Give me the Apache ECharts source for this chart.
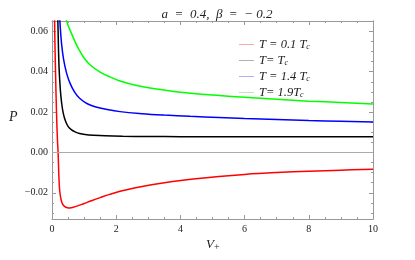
<!DOCTYPE html>
<html>
<head>
<meta charset="utf-8">
<script src="https://cdn.jsdelivr.net/npm/echarts@6/dist/echarts.min.js"></script>
<style>html,body{margin:0;padding:0;background:#fff}#c{width:415px;height:260px}</style>
</head>
<body>
<div id="c"></div>
<script>
// Data: [V+, P]
const seriesNames = ['T = 0.1 Tc', 'T= Tc', 'T = 1.4 Tc', 'T= 1.9Tc'];
const redData = [[0.07,0.085],[0.085,0.06],[0.11,0.04],[0.14,0.02],[0.17,0.006],[0.19,0.0],[0.215,-0.012],[0.24,-0.019],[0.28,-0.0232],[0.33,-0.0256],[0.4,-0.0269],[0.48,-0.0274],[0.56,-0.0275],[0.66,-0.0272],[0.8,-0.0265],[1.0,-0.0253],[1.25,-0.0238],[1.5,-0.0224],[1.8,-0.0208],[2.12,-0.0193],[2.6,-0.0175],[3.1,-0.016],[3.7,-0.0146],[4.4,-0.0132],[5.2,-0.0119],[6.0,-0.0109],[7.0,-0.01],[8.0,-0.0093],[9.0,-0.0088],[10,-0.0083]];
const blackData = [[0.17,0.075],[0.19,0.06],[0.22,0.042],[0.26,0.031],[0.3,0.0245],[0.35,0.0195],[0.42,0.0155],[0.5,0.0129],[0.6,0.0113],[0.72,0.0102],[0.86,0.0094],[1.03,0.0089],[1.3,0.0085],[1.65,0.0082],[2.2,0.008],[3,0.0079],[4,0.0078],[6,0.0077],[8,0.0077],[10,0.0077]];
const blueData = [[0.21,0.075],[0.23,0.069],[0.26,0.0615],[0.3,0.0535],[0.36,0.0462],[0.45,0.0395],[0.55,0.0347],[0.7,0.03],[0.86,0.0268],[1.1,0.0241],[1.4,0.0224],[1.7,0.0213],[2.12,0.0202],[2.8,0.0192],[3.5,0.0185],[4.3,0.0179],[5.2,0.0173],[6.0,0.0168],[7.0,0.0163],[8.0,0.0158],[9.0,0.0154],[10,0.015]];
const greenData = [[0.4,0.07],[0.45,0.0655],[0.5,0.063],[0.6,0.0592],[0.7,0.0555],[0.82,0.0515],[1.0,0.0468],[1.2,0.0432],[1.5,0.0398],[1.8,0.0374],[2.12,0.0354],[2.6,0.0333],[3.2,0.0315],[3.8,0.0302],[4.5,0.0291],[5.2,0.0282],[6,0.0273],[7,0.0263],[8,0.0254],[9,0.0247],[10,0.024]];
const xTicks = [0, 2, 4, 6, 8, 10];
const yMajorTicks = [-0.02, 0, 0.02, 0.04, 0.06];
const yMinorTicks = [-0.03,-0.025,-0.015,-0.01,-0.005,0.005,0.01,0.015,0.025,0.03,0.035,0.045,0.05,0.055,0.065];

const colors = ['#ff0000', '#000000', '#0000ff', '#00ff00'];
const paleColors = ['#f7a8a8', '#b0b0b0', '#b0b0f2', '#aef0ae'];
const legendRich = {
  'T = 0.1 Tc': '{i|T = 0.1 T}{s|c}',
  'T= Tc': '{i|T= T}{s|c}',
  'T = 1.4 Tc': '{i|T = 1.4 T}{s|c}',
  'T= 1.9Tc': '{i|T= 1.9T}{s|c}'
};
const serif = 'Liberation Serif';
const frame = '#999999';
const yMin = -0.033, yMax = 0.0651;

const chart = echarts.init(document.getElementById('c'), null, {renderer: 'canvas'});
function yAx(pos, vals, len, labels) {
  return {
    type: 'value', position: pos, min: yMin, max: yMax, offset: 0,
    axisLine: {show: true, lineStyle: {color: frame, width: 1}},
    axisTick: {show: true, inside: true, length: len, customValues: vals, lineStyle: {color: frame}},
    axisLabel: labels ? {show: true, customValues: yMajorTicks, margin: 4, fontFamily: serif, fontSize: 10, color: '#222',
      formatter: v => (v < 0 ? '\u2212' : '') + Math.abs(v).toFixed(2)} : {show: false},
    splitLine: {show: false}
  };
}
function xAx(pos, labels) {
  return {
    type: 'value', position: pos, min: 0, max: 10, interval: 2,
    axisLine: {show: true, onZero: false, lineStyle: {color: frame, width: 1}},
    axisTick: {show: true, inside: true, length: 4, lineStyle: {color: frame}},
    minorTick: {show: true, splitNumber: 4, length: 2, lineStyle: {color: frame}},
    axisLabel: labels ? {show: true, margin: 5, fontFamily: serif, fontSize: 10, color: '#222'} : {show: false},
    splitLine: {show: false}
  };
}
const datas = [redData, blackData, blueData, greenData];
const series = datas.map((d, i) => ({
  name: seriesNames[i], type: 'line', data: d, smooth: 0.4, showSymbol: false, symbol: 'none',
  xAxisIndex: 0, yAxisIndex: 0, clip: true,
  lineStyle: {color: colors[i], width: 1.5}, itemStyle: {color: colors[i]},
  z: 3
}));
series.push({
  type: 'line', data: [], xAxisIndex: 0, yAxisIndex: 0, z: 1,
  markLine: {silent: true, symbol: 'none', label: {show: false},
    lineStyle: {color: '#aaaaaa', type: 'solid', width: 1}, data: [{yAxis: 0}]}
});
chart.setOption({
  animation: false,
  backgroundColor: '#ffffff',
  grid: {left: 52, right: 42, top: 21, bottom: 41, containLabel: false},
  title: {
    text: '{t|a  =  0.4,  β  =  − 0.2}', left: 212, top: 3, textAlign: 'center',
    textStyle: {fontWeight: 'normal', rich: {t: {fontFamily: serif, fontStyle: 'italic', fontWeight: 'normal', fontSize: 13, color: '#222'}}}
  },
  legend: {
    orient: 'vertical', left: 234, top: 33, itemWidth: 15, itemHeight: 1, itemGap: 3,
    icon: 'rect',
    data: seriesNames.map((n, i) => ({name: n, icon: 'rect', itemStyle: {color: paleColors[i]}})),
    formatter: n => legendRich[n],
    textStyle: {rich: {
      i: {fontFamily: serif, fontStyle: 'italic', fontSize: 12.5, color: '#222', height: 12},
      s: {fontFamily: serif, fontStyle: 'italic', fontSize: 8, color: '#222', verticalAlign: 'bottom', padding: [5, 0, 0, 0]}
    }}
  },
  xAxis: [xAx('bottom', true), xAx('top', false)],
  yAxis: [yAx('left', yMajorTicks, 4, true), yAx('left', yMinorTicks, 2, false), yAx('right', yMajorTicks, 4, false), yAx('right', yMinorTicks, 2, false)],
  graphic: [
    {type: 'text', left: 9, top: 110, style: {text: 'P', font: 'italic 14px "Liberation Serif"', fill: '#222'}},
    {type: 'text', left: 206, top: 238, style: {text: '{v|V}{s|+}', rich: {
      v: {font: 'italic 13px "Liberation Serif"', fill: '#222'},
      s: {font: '10px "Liberation Serif"', fill: '#222', padding: [6, 0, 0, 0]}
    }}}
  ],
  series: series
});
</script>
</body>
</html>
